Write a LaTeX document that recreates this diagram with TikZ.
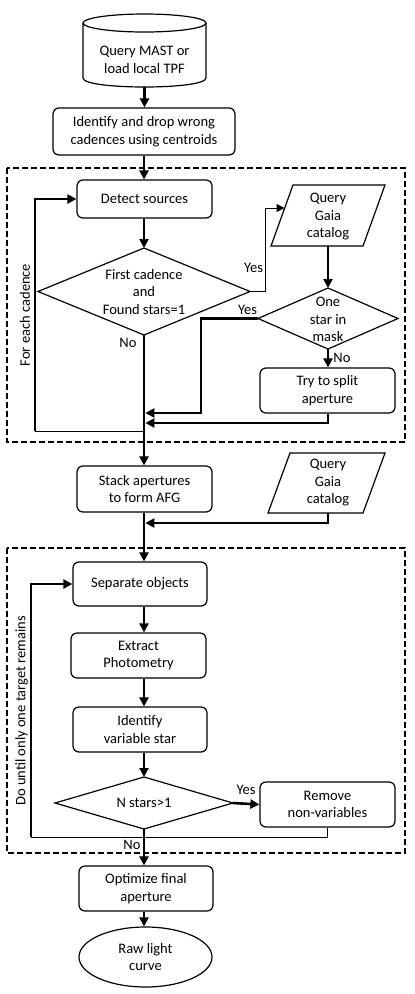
\documentclass[tikz,border=0pt]{standalone}
\usepackage{fontspec}
\setmainfont{Carlito}
\usetikzlibrary{arrows.meta,shapes.geometric,calc}
\begin{document}
\begin{tikzpicture}[x=1pt,y=-1pt,
  every node/.style={font=\fontsize{14.5}{17.5}\selectfont, align=center, inner sep=0pt},
  proc/.style n args={2}{draw, line width=1.2pt, rounded corners=6pt, minimum width=#1, minimum height=#2},
  shapeline/.style={line width=1.2pt, line join=miter},
  flow/.style={line width=2.6pt, -{Triangle[length=9pt,width=9pt]}},
  thinflow/.style={line width=1pt, -{Triangle[length=8pt,width=8pt]}},
  thinline/.style={line width=1pt},
  group/.style={line width=1.2pt, dash pattern=on 6pt off 3pt},
  lbl/.style={font=\fontsize{14.5}{17.5}\selectfont}]
\useasboundingbox (0,0) rectangle (415,994);

% groups
\draw[group] (7,168) rectangle (405,442);
\draw[group] (7,548) rectangle (405,853);

% cylinder
\node (mast) at (144.5,60) {Query MAST or\\load local TPF};
\draw[shapeline] (83,23) -- (83,78) .. controls (83,90) and (206,90) .. (206,78) -- (206,23);
\draw[shapeline] (144.5,23) ellipse[x radius=61.5, y radius=9];
\coordinate (mastB) at (144.5,87);

\node[proc={182}{47}] (id) at (144,131.5) {Identify and drop wrong\\cadences using centroids};
\node[proc={135}{38}] (detect) at (144.5,199) {Detect sources};

% diamond 1
\node (d1) at (144,292) {First cadence\\and\\Found stars=1};
\draw[shapeline] (38,291.5) -- (144,248) -- (250,291.5) -- (144,335) -- cycle;
\coordinate (d1N) at (144,248);
\coordinate (d1E) at (250,291.5);
\coordinate (d1S) at (144,335);

% gaia 1
\node (gaia1) at (328,217) {Query\\Gaia\\catalog};
\draw[shapeline] (293,185) -- (385,185) -- (363,246) -- (271,246) -- cycle;
\coordinate (g1in) at (284.5,208);
\coordinate (g1S) at (328,246);

% diamond 2
\node (d2) at (328,319.5) {One\\star in\\mask};
\draw[shapeline] (258,318.5) -- (328,288) -- (398,318.5) -- (328,349) -- cycle;
\coordinate (d2N) at (328,288);
\coordinate (d2W) at (258,318.5);
\coordinate (d2S) at (328,349);

\node[proc={135}{45}] (split) at (327.5,390.5) {Try to split\\aperture};

\node[proc={135}{46}] (stack) at (144.5,489) {Stack apertures\\to form AFG};

% gaia 2
\node (gaia2) at (328,483) {Query\\Gaia\\catalog};
\draw[shapeline] (290,453) -- (385,453) -- (363,513) -- (268,513) -- cycle;
\coordinate (g2S) at (328,513);

\node[proc={134}{44}] (sep) at (140,584) {Separate objects};
\node[proc={135}{45}] (ext) at (138.5,655.5) {Extract\\Photometry};
\node[proc={134}{45}] (idv) at (140,729.5) {Identify\\variable star};

% diamond 3
\node (d3) at (144,803) {N stars>1};
\draw[shapeline] (55,803) -- (144,777) -- (233,803) -- (144,829) -- cycle;
\coordinate (d3N) at (144,777);
\coordinate (d3E) at (233,803);
\coordinate (d3S) at (144,829);

\node[proc={135}{45}] (rem) at (327.5,804.5) {Remove\\non-variables};
\node[proc={134}{45}] (opt) at (146,888.5) {Optimize final\\aperture};
\node[draw, ellipse, line width=1.2pt, minimum width=133, minimum height=60] (raw) at (145.5,957) {Raw light\\curve};

% spine coordinates
\coordinate (spine) at (144,0);
\coordinate (j1) at (145.4,413);
\coordinate (j2) at (145.4,423);
\coordinate (j3) at (145.4,523);
\coordinate (loop1a) at (144,431);
\coordinate (loop1b) at (35,431);
\coordinate (loop2a) at (327,837);
\coordinate (loop2b) at (31,837);

% connectors
\draw[flow] (mastB) -- (mastB |- id.north);
\draw[flow] (id.south -| spine) -- (detect.north -| spine);
\draw[flow] (detect.south -| spine) -- (d1N);
\draw[flow] (d1S) -- (stack.north -| spine);
\draw[thinflow] (d1E) -- (265,291.5) |- (g1in);
\draw[flow] (g1S) -- (d2N);
\draw[flow] (d2W) -- (201,318.5) |- (j1);
\draw[flow] (d2S) -- (split.north -| d2S);
\draw[flow] (split.south -| d2S) -- (328,423) -- (j2);
\draw[thinline] (loop1a) -- (loop1b);
\draw[flow] (loop1b) |- (detect.west);

\draw[flow] (g2S) -- (328,523) -- (j3);
\draw[flow] (stack.south -| spine) -- (sep.north -| spine);
\draw[flow] (sep.south -| spine) -- (ext.north -| spine);
\draw[flow] (ext.south -| spine) -- (idv.north -| spine);
\draw[flow] (idv.south -| spine) -- (d3N);
\draw[flow] (d3E) -- (rem.west);
\draw[thinline] (rem.south -| loop2a) -- (loop2a) -- (loop2b);
\draw[flow] (loop2b) |- (sep.west);
\draw[flow] (d3S) -- (opt.north -| spine);
\draw[flow] (opt.south -| spine) -- (raw.north -| spine);

% labels
\node[lbl] (y1) at (253.5,268) {Yes};
\node[lbl] (n1) at (128,343) {No};
\node[lbl] (y2) at (247.5,310) {Yes};
\node[lbl] (n2) at (342,358) {No};
\node[lbl] (y3) at (246,790) {Yes};
\node[lbl] (n3) at (132,845) {No};
\node[lbl, rotate=90] (lp1) at (25,315) {For each cadence};
\node[lbl, rotate=90] (lp2) at (21.5,711) {Do until only one target remains};
\end{tikzpicture}
\end{document}
